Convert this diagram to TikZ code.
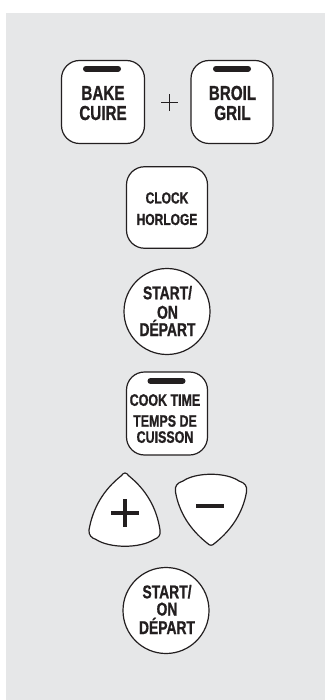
\documentclass[tikz,border=0pt]{standalone}
\usepackage{fontspec}
\newfontfamily\cond{Liberation Sans}[FakeStretch=0.75, BoldFeatures={FakeStretch=0.75, FakeBold=0.8}]
\definecolor{bgcol}{HTML}{E6E7E8}
\definecolor{ink}{HTML}{231F20}
\tikzset{
  keybox/.style={draw=ink, fill=white, line width=1.2pt, rounded corners=18pt, inner sep=0pt},
  keyround/.style={draw=ink, fill=white, line width=1.2pt, circle, inner sep=0pt, minimum size=86pt},
  keyshape/.style={draw=ink, fill=white, line width=1.2pt},
  bar/.style={ink, line width=6pt, line cap=round},
  big/.style={anchor=base, inner sep=0pt, text=ink, font=\cond\bfseries\fontsize{20.3}{20.3}\selectfont},
  mid/.style={anchor=base, inner sep=0pt, text=ink, font=\cond\bfseries\fontsize{16}{16}\selectfont},
  strt/.style={anchor=base, inner sep=0pt, text=ink, font=\cond\bfseries\fontsize{18.5}{18.5}\selectfont},
  cook/.style={anchor=base, inner sep=0pt, text=ink, font=\cond\bfseries\fontsize{16.6}{16.6}\selectfont},
}
\begin{document}
\begin{tikzpicture}[x=1pt, y=-1pt]
\useasboundingbox (0,0) rectangle (325,700);
\fill[bgcol] (6,13) rectangle (325,700);

% BAKE / BROIL
\node[keybox, minimum width=83pt, minimum height=83pt] (bake) at (103,102) {};
\node[keybox, minimum width=82pt, minimum height=83pt] (broil) at (232,102) {};
\draw[bar] (86,68.7) -- (118,68.7);
\draw[bar] (216,68.7) -- (248,68.7);
\node[big] (bakeA) at (103,100) {BAKE};
\node[big] (bakeB) at (103,120) {CUIRE};
\node[big] (broilA) at (232.5,100) {BROIL};
\node[big] (broilB) at (232.5,120) {GRIL};
\coordinate (pc) at (169.5,102.2);
\draw[ink, line width=1.2pt] ([xshift=-8.5pt]pc) -- ([xshift=8.5pt]pc);
\draw[ink, line width=1.2pt] ([yshift=-8.5pt]pc) -- ([yshift=8.5pt]pc);

% CLOCK
\node[keybox, minimum width=81pt, minimum height=81.5pt] (clock) at (167,207.5) {};
\node[mid] (clockA) at (167,203.5) {CLOCK};
\node[mid] (clockB) at (167,225) {HORLOGE};

% START 1
\node[keyround] (start1) at (167,311.5) {};
\node[strt] (s1a) at (167.5,299.3) {START/};
\node[strt] (s1b) at (167.5,318.7) {ON};
\node[strt] (s1c) at (167.5,336) {DÉPART};

% COOK TIME
\node[keybox, minimum width=81pt, minimum height=83pt] (cooktime) at (167,413.5) {};
\draw[bar] (150.5,381) -- (182.5,381);
\node[cook] (ctA) at (165,405.8) {COOK TIME};
\node[cook] (ctB) at (165,426.7) {TEMPS DE};
\node[cook] (ctC) at (165,442.8) {CUISSON};

% PLUS key
\draw[keyshape] (121,476) .. controls (124,472) and (126,472) .. (129,476)
  .. controls (146.3,490) and (156.7,508) .. (160,530)
  .. controls (161,535) and (158.5,538) .. (154,539.5)
  .. controls (140,548.5) and (110,548.5) .. (96,539.5)
  .. controls (91.5,538) and (88.5,535) .. (89,530)
  .. controls (92.8,508) and (103.4,490) .. cycle;
\draw[ink, line width=4pt] (111,513) -- (139,513);
\draw[ink, line width=4pt] (125,499) -- (125,527);

% MINUS key
\draw[keyshape] (183,481) .. controls (196,472) and (226,472) .. (239,481)
  .. controls (245,483) and (247.5,486) .. (246.5,492)
  .. controls (243,512) and (232.2,529.3) .. (215,543)
  .. controls (212,546) and (210,546) .. (207,543)
  .. controls (189.8,529.3) and (179,512) .. (175.5,492)
  .. controls (174.5,486) and (177,483) .. cycle;
\draw[ink, line width=4pt] (196,506) -- (224,506);

% START 2
\node[keyround] (start2) at (166,610.5) {};
\node[strt] (s2a) at (167,598.3) {START/};
\node[strt] (s2b) at (167,615.5) {ON};
\node[strt] (s2c) at (167,634) {DÉPART};
\end{tikzpicture}
\end{document}
